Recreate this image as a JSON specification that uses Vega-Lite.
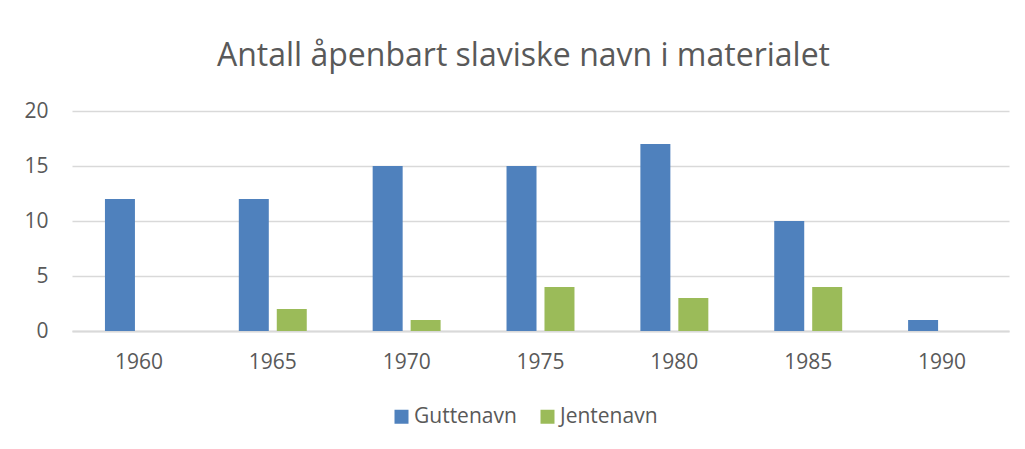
{
  "$schema": "https://vega.github.io/schema/vega-lite/v6.json",
  "autosize": "none",
  "width": 937,
  "height": 220,
  "padding": {"left": 72, "top": 111, "right": 16, "bottom": 118},
  "background": "white",
  "title": {
    "text": "Antall åpenbart slaviske navn i materialet",
    "font": "Open Sans",
    "fontSize": 32,
    "fontWeight": "normal",
    "color": "#595959",
    "anchor": "middle",
    "dx": -17,
    "offset": 27
  },
  "data": {
    "values": [
      {"year": "1960", "serie": "Guttenavn", "antall": 12},
      {"year": "1960", "serie": "Jentenavn", "antall": 0},
      {"year": "1965", "serie": "Guttenavn", "antall": 12},
      {"year": "1965", "serie": "Jentenavn", "antall": 2},
      {"year": "1970", "serie": "Guttenavn", "antall": 15},
      {"year": "1970", "serie": "Jentenavn", "antall": 1},
      {"year": "1975", "serie": "Guttenavn", "antall": 15},
      {"year": "1975", "serie": "Jentenavn", "antall": 4},
      {"year": "1980", "serie": "Guttenavn", "antall": 17},
      {"year": "1980", "serie": "Jentenavn", "antall": 3},
      {"year": "1985", "serie": "Guttenavn", "antall": 10},
      {"year": "1985", "serie": "Jentenavn", "antall": 4},
      {"year": "1990", "serie": "Guttenavn", "antall": 1},
      {"year": "1990", "serie": "Jentenavn", "antall": 0}
    ]
  },
  "mark": {"type": "bar"},
  "encoding": {
    "x": {
      "field": "year",
      "type": "nominal",
      "scale": {"paddingInner": 0, "paddingOuter": 0},
      "axis": {
        "title": null,
        "labelAngle": 0,
        "labelFont": "Open Sans",
        "labelFontSize": 21,
        "labelColor": "#595959",
        "labelPadding": 20,
        "ticks": false,
        "domainColor": "#D9D9D9",
        "domainWidth": 2,
        "grid": false
      }
    },
    "xOffset": {
      "field": "serie",
      "type": "nominal",
      "scale": {"paddingInner": 0.21, "paddingOuter": 0.868}
    },
    "y": {
      "field": "antall",
      "type": "quantitative",
      "scale": {"domain": [0, 20]},
      "axis": {
        "title": null,
        "values": [0, 5, 10, 15, 20],
        "labelFont": "Open Sans",
        "labelFontSize": 21,
        "labelColor": "#595959",
        "labelPadding": 24,
        "ticks": false,
        "domain": false,
        "gridColor": "#D9D9D9",
        "gridWidth": 1.5
      }
    },
    "color": {
      "field": "serie",
      "type": "nominal",
      "scale": {"domain": ["Guttenavn", "Jentenavn"], "range": ["#4F81BD", "#9BBB59"]},
      "legend": {
        "title": null,
        "orient": "none",
        "legendX": 319,
        "legendY": 295,
        "direction": "horizontal",
        "symbolType": "square",
        "symbolSize": 196,
        "symbolStrokeWidth": 0,
        "labelFont": "Open Sans",
        "labelFontSize": 21,
        "labelColor": "#595959",
        "labelOffset": 2,
        "columnPadding": 20
      }
    }
  },
  "config": {"view": {"stroke": null}}
}
